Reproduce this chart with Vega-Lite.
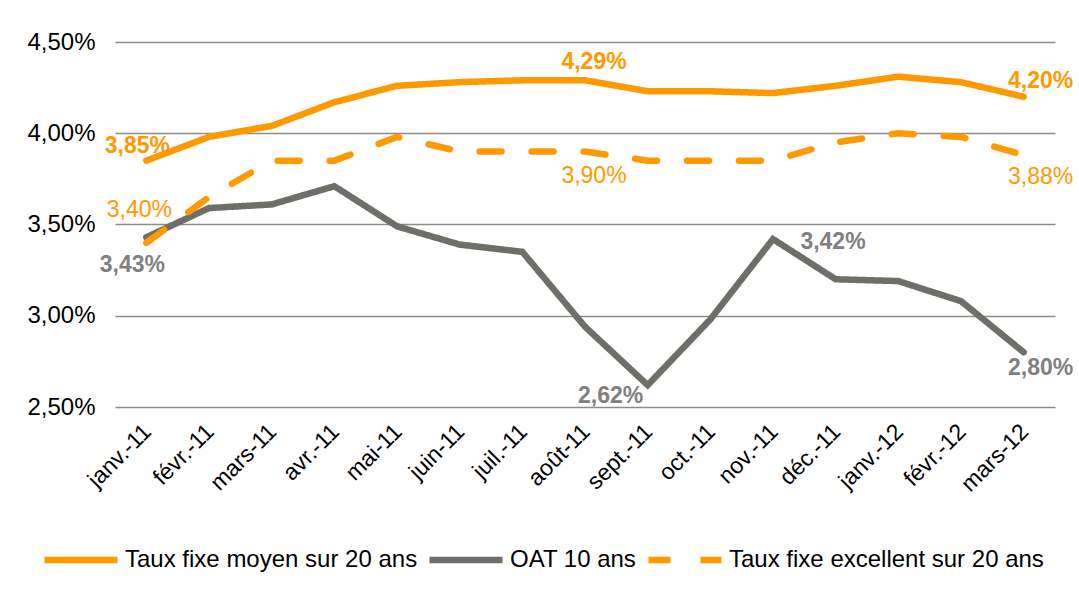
{
  "$schema": "https://vega.github.io/schema/vega-lite/v6.json",
  "width": 940,
  "height": 365,
  "autosize": {"type": "none"},
  "padding": {"left": 115, "top": 42, "right": 24, "bottom": 203},
  "background": "white",
  "config": {
    "locale": {"number": {"decimal": ",", "thousands": "\u00a0", "grouping": [3], "currency": ["", "\u00a0€"]}},
    "view": {"stroke": null},
    "font": "Liberation Sans",
    "text": {"font": "Liberation Sans"}
  },
  "data": {"values": [
    {"month": "janv.-11", "series": "Taux fixe moyen sur 20 ans", "value": 0.0385},
    {"month": "févr.-11", "series": "Taux fixe moyen sur 20 ans", "value": 0.0398},
    {"month": "mars-11", "series": "Taux fixe moyen sur 20 ans", "value": 0.0404},
    {"month": "avr.-11", "series": "Taux fixe moyen sur 20 ans", "value": 0.0417},
    {"month": "mai-11", "series": "Taux fixe moyen sur 20 ans", "value": 0.0426},
    {"month": "juin-11", "series": "Taux fixe moyen sur 20 ans", "value": 0.0428},
    {"month": "juil.-11", "series": "Taux fixe moyen sur 20 ans", "value": 0.0429},
    {"month": "août-11", "series": "Taux fixe moyen sur 20 ans", "value": 0.0429},
    {"month": "sept.-11", "series": "Taux fixe moyen sur 20 ans", "value": 0.0423},
    {"month": "oct.-11", "series": "Taux fixe moyen sur 20 ans", "value": 0.0423},
    {"month": "nov.-11", "series": "Taux fixe moyen sur 20 ans", "value": 0.0422},
    {"month": "déc.-11", "series": "Taux fixe moyen sur 20 ans", "value": 0.0426},
    {"month": "janv.-12", "series": "Taux fixe moyen sur 20 ans", "value": 0.0431},
    {"month": "févr.-12", "series": "Taux fixe moyen sur 20 ans", "value": 0.0428},
    {"month": "mars-12", "series": "Taux fixe moyen sur 20 ans", "value": 0.0420},
    {"month": "janv.-11", "series": "OAT 10 ans", "value": 0.0343},
    {"month": "févr.-11", "series": "OAT 10 ans", "value": 0.0359},
    {"month": "mars-11", "series": "OAT 10 ans", "value": 0.0361},
    {"month": "avr.-11", "series": "OAT 10 ans", "value": 0.0371},
    {"month": "mai-11", "series": "OAT 10 ans", "value": 0.0349},
    {"month": "juin-11", "series": "OAT 10 ans", "value": 0.0339},
    {"month": "juil.-11", "series": "OAT 10 ans", "value": 0.0335},
    {"month": "août-11", "series": "OAT 10 ans", "value": 0.0294},
    {"month": "sept.-11", "series": "OAT 10 ans", "value": 0.0262},
    {"month": "oct.-11", "series": "OAT 10 ans", "value": 0.0298},
    {"month": "nov.-11", "series": "OAT 10 ans", "value": 0.0342},
    {"month": "déc.-11", "series": "OAT 10 ans", "value": 0.0320},
    {"month": "janv.-12", "series": "OAT 10 ans", "value": 0.0319},
    {"month": "févr.-12", "series": "OAT 10 ans", "value": 0.0308},
    {"month": "mars-12", "series": "OAT 10 ans", "value": 0.0280},
    {"month": "janv.-11", "series": "Taux fixe excellent sur 20 ans", "value": 0.0340},
    {"month": "févr.-11", "series": "Taux fixe excellent sur 20 ans", "value": 0.0365},
    {"month": "mars-11", "series": "Taux fixe excellent sur 20 ans", "value": 0.0385},
    {"month": "avr.-11", "series": "Taux fixe excellent sur 20 ans", "value": 0.0385},
    {"month": "mai-11", "series": "Taux fixe excellent sur 20 ans", "value": 0.0398},
    {"month": "juin-11", "series": "Taux fixe excellent sur 20 ans", "value": 0.0390},
    {"month": "juil.-11", "series": "Taux fixe excellent sur 20 ans", "value": 0.0390},
    {"month": "août-11", "series": "Taux fixe excellent sur 20 ans", "value": 0.0390},
    {"month": "sept.-11", "series": "Taux fixe excellent sur 20 ans", "value": 0.0385},
    {"month": "oct.-11", "series": "Taux fixe excellent sur 20 ans", "value": 0.0385},
    {"month": "nov.-11", "series": "Taux fixe excellent sur 20 ans", "value": 0.0385},
    {"month": "déc.-11", "series": "Taux fixe excellent sur 20 ans", "value": 0.0395},
    {"month": "janv.-12", "series": "Taux fixe excellent sur 20 ans", "value": 0.0400},
    {"month": "févr.-12", "series": "Taux fixe excellent sur 20 ans", "value": 0.0398},
    {"month": "mars-12", "series": "Taux fixe excellent sur 20 ans", "value": 0.0388}
  ]},
  "encoding": {
    "x": {
      "field": "month", "type": "ordinal",
      "sort": ["janv.-11","févr.-11","mars-11","avr.-11","mai-11","juin-11","juil.-11","août-11","sept.-11","oct.-11","nov.-11","déc.-11","janv.-12","févr.-12","mars-12"],
      "scale": {"type": "point", "padding": 0.5},
      "axis": {"title": null, "labelAngle": -45, "labelAlign": "right", "labelBaseline": "top", "labelPadding": 13, "labelOffset": -7, "labelFontSize": 23, "labelColor": "#000000", "ticks": false, "domain": false, "grid": false, "labelFont": "Liberation Sans"}
    },
    "y": {
      "field": "value", "type": "quantitative",
      "scale": {"domain": [0.025, 0.045], "nice": false, "zero": false},
      "axis": {"title": null, "values": [0.025, 0.03, 0.035, 0.04, 0.045], "format": ".2%", "labelFontSize": 24, "labelColor": "#000000", "labelPadding": 20, "ticks": false, "domain": false, "grid": true, "gridColor": "#8c8c8c", "gridWidth": 1.5, "labelFont": "Liberation Sans"}
    }
  },
  "layer": [
    {
      "mark": {"type": "line", "strokeWidth": 6.5, "strokeCap": "round"},
      "encoding": {
        "color": {
          "field": "series", "type": "nominal",
          "scale": {"domain": ["Taux fixe moyen sur 20 ans", "OAT 10 ans", "Taux fixe excellent sur 20 ans"], "range": ["#FF9900", "#6F6E69", "#FF9900"]},
          "legend": {"title": null, "orient": "none", "legendX": -74, "legendY": 478, "direction": "horizontal", "symbolType": "stroke", "symbolSize": 5329, "symbolStrokeWidth": 6.5, "labelFontSize": 24, "labelColor": "#000000", "labelOffset": 4, "columnPadding": -2, "labelFont": "Liberation Sans", "labelLimit": 500}
        },
        "strokeDash": {
          "field": "series", "type": "nominal",
          "scale": {"domain": ["Taux fixe moyen sur 20 ans", "OAT 10 ans", "Taux fixe excellent sur 20 ans"], "range": [[1, 0], [1, 0], [22, 30]]},
          "legend": null
        }
      }
    },
    {"transform": [{"filter": "datum.series === 'Taux fixe moyen sur 20 ans' && datum.month === 'janv.-11'"}],
     "mark": {"type": "text", "dx": -9, "dy": -15, "fontWeight": "bold", "fontSize": 23, "color": "#FF9900"},
     "encoding": {"text": {"field": "value", "type": "quantitative", "format": ".2%"}}},
    {"transform": [{"filter": "datum.series === 'Taux fixe moyen sur 20 ans' && datum.month === 'août-11'"}],
     "mark": {"type": "text", "dx": 9, "dy": -18, "fontWeight": "bold", "fontSize": 23, "color": "#FF9900"},
     "encoding": {"text": {"field": "value", "type": "quantitative", "format": ".2%"}}},
    {"transform": [{"filter": "datum.series === 'Taux fixe moyen sur 20 ans' && datum.month === 'mars-12'"}],
     "mark": {"type": "text", "dx": 17, "dy": -16, "fontWeight": "bold", "fontSize": 23, "color": "#FF9900"},
     "encoding": {"text": {"field": "value", "type": "quantitative", "format": ".2%"}}},
    {"transform": [{"filter": "datum.series === 'Taux fixe excellent sur 20 ans' && datum.month === 'janv.-11'"}],
     "mark": {"type": "text", "dx": -7, "dy": -33, "fontSize": 23, "color": "#FF9900"},
     "encoding": {"text": {"field": "value", "type": "quantitative", "format": ".2%"}}},
    {"transform": [{"filter": "datum.series === 'Taux fixe excellent sur 20 ans' && datum.month === 'août-11'"}],
     "mark": {"type": "text", "dx": 9, "dy": 24, "fontSize": 23, "color": "#FF9900"},
     "encoding": {"text": {"field": "value", "type": "quantitative", "format": ".2%"}}},
    {"transform": [{"filter": "datum.series === 'Taux fixe excellent sur 20 ans' && datum.month === 'mars-12'"}],
     "mark": {"type": "text", "dx": 17, "dy": 22, "fontSize": 23, "color": "#FF9900"},
     "encoding": {"text": {"field": "value", "type": "quantitative", "format": ".2%"}}},
    {"transform": [{"filter": "datum.series === 'OAT 10 ans' && datum.month === 'janv.-11'"}],
     "mark": {"type": "text", "dx": -14, "dy": 28, "fontWeight": "bold", "fontSize": 23, "color": "#808080"},
     "encoding": {"text": {"field": "value", "type": "quantitative", "format": ".2%"}}},
    {"transform": [{"filter": "datum.series === 'OAT 10 ans' && datum.month === 'sept.-11'"}],
     "mark": {"type": "text", "dx": -37, "dy": 11, "fontWeight": "bold", "fontSize": 23, "color": "#808080"},
     "encoding": {"text": {"field": "value", "type": "quantitative", "format": ".2%"}}},
    {"transform": [{"filter": "datum.series === 'OAT 10 ans' && datum.month === 'nov.-11'"}],
     "mark": {"type": "text", "dx": 60, "dy": 3, "fontWeight": "bold", "fontSize": 23, "color": "#808080"},
     "encoding": {"text": {"field": "value", "type": "quantitative", "format": ".2%"}}},
    {"transform": [{"filter": "datum.series === 'OAT 10 ans' && datum.month === 'mars-12'"}],
     "mark": {"type": "text", "dx": 17, "dy": 16, "fontWeight": "bold", "fontSize": 23, "color": "#808080"},
     "encoding": {"text": {"field": "value", "type": "quantitative", "format": ".2%"}}}
  ]
}
